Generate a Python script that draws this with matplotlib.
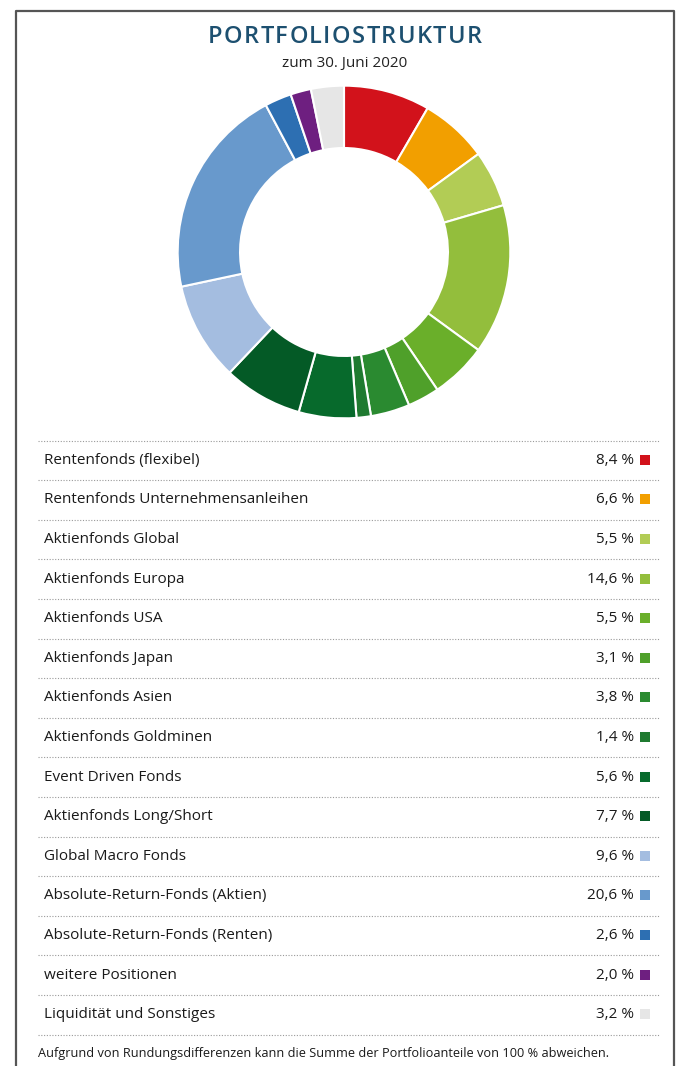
import matplotlib
matplotlib.use('Agg')
import matplotlib.pyplot as plt
from matplotlib.patches import Rectangle

plt.rcParams['font.family'] = ['Open Sans', 'DejaVu Sans']

# Portfoliostruktur zum 30. Juni 2020
labels = ['Rentenfonds (flexibel)', 'Rentenfonds Unternehmensanleihen', 'Aktienfonds Global',
          'Aktienfonds Europa', 'Aktienfonds USA', 'Aktienfonds Japan', 'Aktienfonds Asien',
          'Aktienfonds Goldminen', 'Event Driven Fonds', 'Aktienfonds Long/Short',
          'Global Macro Fonds', 'Absolute-Return-Fonds (Aktien)', 'Absolute-Return-Fonds (Renten)',
          'weitere Positionen', 'Liquidität und Sonstiges']
shares = [8.4, 6.6, 5.5, 14.6, 5.5, 3.1, 3.8, 1.4, 5.6, 7.7, 9.6, 20.6, 2.6, 2.0, 3.2]
colors = ['#d2121b', '#f29f00', '#b2cc55', '#93be3c', '#6aaf2a', '#4fa02a', '#2a8a30',
          '#1f7a30', '#076a2c', '#045a26', '#a4bde0', '#6899cc', '#2d6fb2', '#6e1f80', '#e6e6e6']

W, H = 679, 1066
fig = plt.figure(figsize=(W / 100, H / 100), dpi=100)

# overlay axes in pixel coordinates
bg = fig.add_axes([0, 0, 1, 1])
bg.set_xlim(0, W)
bg.set_ylim(H, 0)
bg.axis('off')

# frame
bg.plot([16, 16, 674, 674], [H + 5, 10.5, 10.5, H + 5], color='#555555', lw=1.6)

# title with a bit of letter spacing (draw char by char)
title = 'PORTFOLIOSTRUKTUR'
spacing = 1.4
renderer = fig.canvas.get_renderer()
widths = []
for ch in title:
    t = bg.text(0, 0, ch, fontsize=17, fontweight='semibold')
    widths.append(t.get_window_extent(renderer).width)
    t.remove()
x = 345 - (sum(widths) + spacing * (len(title) - 1)) / 2
for ch, w in zip(title, widths):
    bg.text(x, 37, ch, ha='left', va='center', fontsize=17, fontweight='semibold', color='#1d5070')
    x += w + spacing

bg.text(345, 64, 'zum 30. Juni 2020', ha='center', va='center', fontsize=11, color='#222222')

# donut
cx, cy, r = 344, 252, 168
ax = fig.add_axes([(cx - r) / W, 1 - (cy + r) / H, 2 * r / W, 2 * r / H])
ax.pie(shares, colors=colors, startangle=90, counterclock=False, radius=1,
       wedgeprops=dict(width=0.375, edgecolor='white', linewidth=1.5))
ax.set_xlim(-1.01, 1.01)
ax.set_ylim(-1.01, 1.01)
ax.axis('off')

# table
top, step = 440.5, 39.6
for i in range(len(labels) + 1):
    y = top + i * step
    bg.plot([38, 660], [y, y], color='#9a9a9a', lw=0.8, linestyle=(0, (1, 1.5)))

for i, (lab, val, col) in enumerate(zip(labels, shares, colors)):
    y = top + (i + 0.5) * step
    bg.text(44, y, lab, ha='left', va='center', fontsize=11, color='#1a1a1a')
    bg.text(634, y, f'{val:.1f} %'.replace('.', ','), ha='right', va='center',
            fontsize=11, color='#1a1a1a')
    bg.add_patch(Rectangle((640, y - 5.5), 10, 10, color=col, lw=0))

bg.text(38, 1054, 'Aufgrund von Rundungsdifferenzen kann die Summe der Portfolioanteile von 100 % abweichen.',
        ha='left', va='center', fontsize=9.2, color='#1a1a1a')

fig.savefig('out.png', dpi=100, facecolor='white')
